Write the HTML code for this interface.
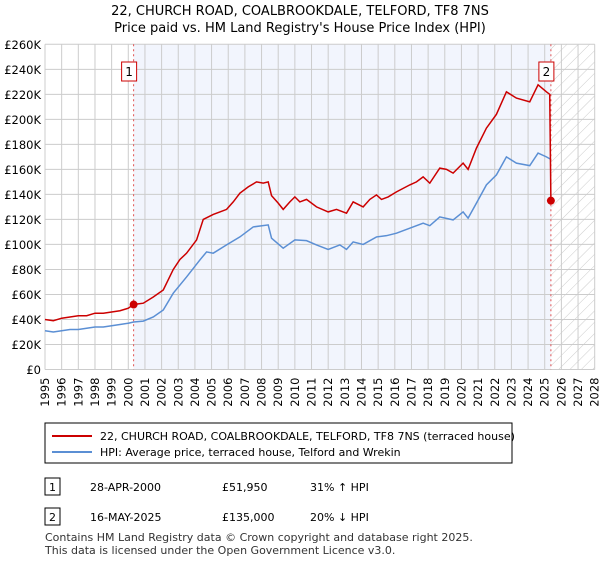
<!DOCTYPE html>
<html><head><meta charset="utf-8"><style>
body{margin:0;background:#fff;font-family:"Liberation Sans","DejaVu Sans",sans-serif;}
svg text{font-family:"DejaVu Sans","Liberation Sans",sans-serif;}
</style></head><body>
<svg id="c" width="600" height="560" xmlns="http://www.w3.org/2000/svg">
<defs><pattern id="hatch" width="8" height="8" patternUnits="userSpaceOnUse" patternTransform="rotate(45)"><line x1="0" y1="0" x2="0" y2="8" stroke="#ccc" stroke-width="1"/></pattern></defs>
<text x="300" y="15" text-anchor="middle" font-size="13">22, CHURCH ROAD, COALBROOKDALE, TELFORD, TF8 7NS</text>
<text x="300" y="32" text-anchor="middle" font-size="13">Price paid vs. HM Land Registry's House Price Index (HPI)</text>
<g id="plot"></g>
<rect x="45" y="423" width="467" height="40" fill="#fff" stroke="#000"/>
<line x1="52" y1="436" x2="92" y2="436" stroke="#cc0000" stroke-width="2"/>
<text x="100" y="440" font-size="11">22, CHURCH ROAD, COALBROOKDALE, TELFORD, TF8 7NS (terraced house)</text>
<line x1="52" y1="452" x2="92" y2="452" stroke="#5b8fd4" stroke-width="2"/>
<text x="100" y="456" font-size="11">HPI: Average price, terraced house, Telford and Wrekin</text>
<rect x="45" y="478" width="15" height="17" fill="#fff" stroke="#000"/>
<text x="52.5" y="491" text-anchor="middle" font-size="11">1</text>
<text x="90" y="491" font-size="11">28-APR-2000</text>
<text x="222" y="491" font-size="11">£51,950</text>
<text x="310" y="491" font-size="11">31% ↑ HPI</text>
<rect x="45" y="508" width="15" height="17" fill="#fff" stroke="#000"/>
<text x="52.5" y="521" text-anchor="middle" font-size="11">2</text>
<text x="90" y="521" font-size="11">16-MAY-2025</text>
<text x="222" y="521" font-size="11">£135,000</text>
<text x="310" y="521" font-size="11">20% ↓ HPI</text>
<text x="45" y="541" font-size="11" fill="#333">Contains HM Land Registry data © Crown copyright and database right 2025.</text>
<text x="45" y="554" font-size="11" fill="#333">This data is licensed under the Open Government Licence v3.0.</text>
</svg>
<script>
const years=[1995,1996,1997,1998,1999,2000,2001,2002,2003,2004,2005,2006,2007,2008,2009,2010,2011,2012,2013,2014,2015,2016,2017,2018,2019,2020,2021,2022,2023,2024,2025,2026,2027,2028];
const yTicks=[0,20,40,60,80,100,120,140,160,180,200,220,240,260];
const redT=[1995,1995.5,1996,1996.5,1997,1997.5,1998,1998.5,1999,1999.5,2000,2000.32,2000.9,2001.5,2002.1,2002.7,2003.1,2003.5,2004.1,2004.5,2005.1,2005.5,2005.9,2006.3,2006.7,2007.2,2007.7,2008.1,2008.4,2008.6,2009.0,2009.3,2009.7,2010.0,2010.3,2010.7,2011.3,2012.0,2012.5,2013.1,2013.5,2014.1,2014.5,2014.9,2015.2,2015.6,2016.1,2016.9,2017.3,2017.7,2018.1,2018.7,2019.1,2019.5,2020.1,2020.4,2020.9,2021.5,2022.1,2022.7,2023.3,2024.1,2024.6,2025.1,2025.3,2025.37];
const redV=[40,39,41,42,43,43,45,45,46,47,49,51.95,53,58,63.6,80,88,93,103.6,120,124,126,128,134,141,146,150,149,150,139,133,128,134,138,134,136,130,126,128,125,134,130,136,139.6,136,138,142,147.6,150,154,149,161,160,157,165,160,177,193,204,222,217,214,227.6,222,220,135];
const hpiT=[1995,1995.5,1996,1996.5,1997,1997.5,1998,1998.5,1999,1999.5,2000,2000.32,2000.9,2001.5,2002.1,2002.7,2003.5,2004.3,2004.7,2005.1,2005.9,2006.7,2007.5,2008.4,2008.6,2009.3,2010.0,2010.7,2011.3,2012.0,2012.7,2013.1,2013.5,2014.1,2014.9,2015.5,2016.1,2016.9,2017.7,2018.1,2018.7,2019.5,2020.1,2020.4,2020.9,2021.5,2022.1,2022.7,2023.3,2024.1,2024.6,2025.1,2025.37];
const hpiV=[31,30,31,32,32,33,34,34,35,36,37,38,38.7,42,47.6,61,74,87.6,94,93,99.6,106,114,115.6,105,97,103.6,103,99.6,96,99.6,96,102,100,106,107,109,113,117,115,122,119.6,126,121,133,147.6,155.6,170,165,163,173,170,168];
const sales=[[2000.32,51.95,"1"],[2025.37,135,"2"]];
const L=45,R=594.7,T=44.3,B=369.5,X0=1995,X1=2028;
const xs=v=>L+(v-X0)*(R-L)/(X1-X0);
const ys=v=>B-v*(B-T)/260;
const NS="http://www.w3.org/2000/svg";
const g=document.getElementById('plot');
function mk(tag,attrs){const e=document.createElementNS(NS,tag);for(const k in attrs)e.setAttribute(k,attrs[k]);g.appendChild(e);return e;}
let e;
e=mk('rect',{x:xs(sales[0][0]),y:T,width:xs(sales[1][0])-xs(sales[0][0]),height:B-T,fill:'#f2f5fd'});


e=mk('rect',{x:xs(sales[1][0]),y:T,width:R-xs(sales[1][0]),height:B-T,fill:'url(#hatch)'});


years.forEach(y=>{e=mk('line',{x1:xs(y),x2:xs(y),y1:T,y2:B,stroke:'#ccc','stroke-width':1});


const t=mk('text',{x:0,y:0,'font-size':11.5,'text-anchor':'end',transform:`translate(${xs(y)+4},${B+8}) rotate(-90)`});t.textContent=y;

});
yTicks.forEach(v=>{e=mk('line',{x1:L,x2:R,y1:ys(v),y2:ys(v),stroke:'#ccc','stroke-width':1});


const t=mk('text',{x:L-4,y:ys(v)+4.5,'font-size':11.5,'text-anchor':'end'});t.textContent=v===0?'£0':'£'+v+'K';

});
sales.forEach(s=>{e=mk('line',{x1:xs(s[0]),x2:xs(s[0]),y1:T,y2:B,stroke:'#e05050','stroke-width':1,'stroke-dasharray':'2,3'});

});
e=mk('polyline',{points:hpiT.map((t,i)=>xs(t)+','+ys(hpiV[i])).join(' '),fill:'none',stroke:'#5b8fd4','stroke-width':1.5});


e=mk('polyline',{points:redT.map((t,i)=>xs(t)+','+ys(redV[i])).join(' '),fill:'none',stroke:'#cc0000','stroke-width':1.5});


sales.forEach(s=>{e=mk('circle',{cx:xs(s[0]),cy:ys(s[1]),r:4,fill:'#cc0000'});


const bx=xs(s[0])-11;
const r=mk('rect',{x:bx-1,y:62,width:15,height:19,fill:'#fff',stroke:'#cc0000'});


const t=mk('text',{x:bx+6.5,y:76,'font-size':12,'text-anchor':'middle'});t.textContent=s[2];

});
</script>
</body></html>
